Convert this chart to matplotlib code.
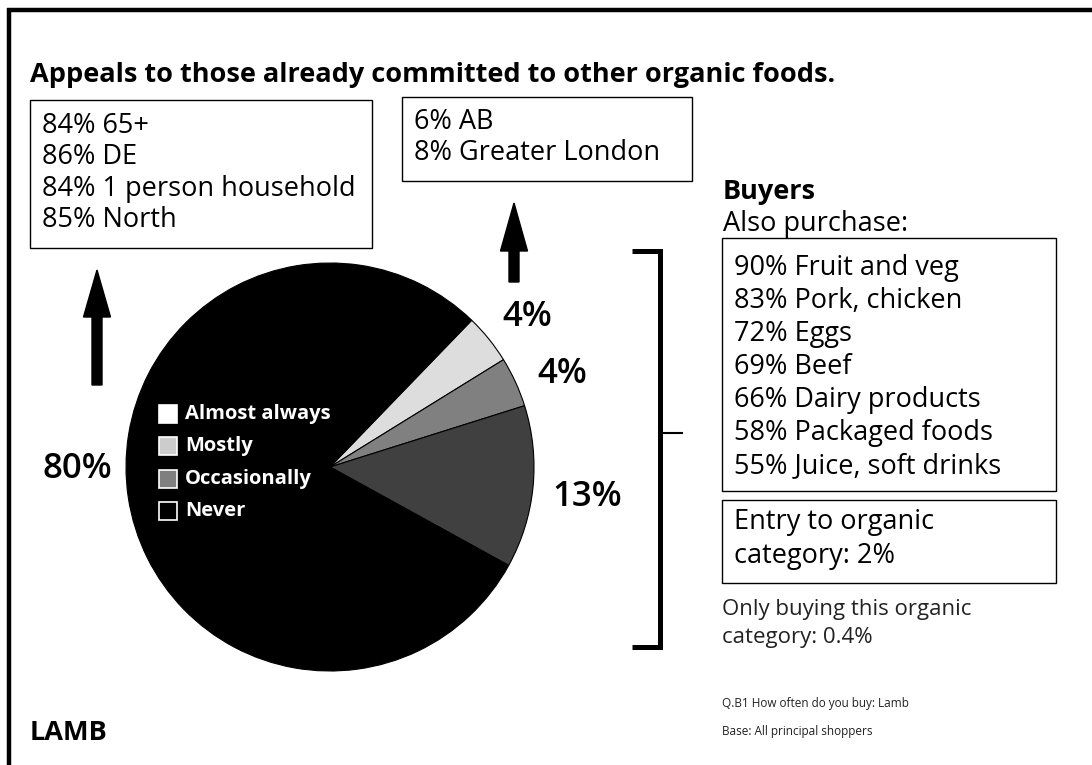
import matplotlib
matplotlib.use("Agg")
import matplotlib.pyplot as plt
from matplotlib.patches import Rectangle, FancyArrow

plt.rcParams['font.family'] = ['Open Sans', 'DejaVu Sans']

# ---- data ----
frequency = ["Almost always", "Mostly", "Occasionally", "Never"]
shares = [4, 4, 13, 80]
slice_colors = ["#dddddd", "#808080", "#404040", "#000000"]
legend_colors = ["#ffffff", "#cccccc", "#7f7f7f", "#000000"]

profile_high = ["84% 65+", "86% DE", "84% 1 person household", "85% North"]
profile_low = ["6% AB", "8% Greater London"]
also_purchase = ["90% Fruit and veg", "83% Pork, chicken", "72% Eggs", "69% Beef",
                 "66% Dairy products", "58% Packaged foods", "55% Juice, soft drinks"]

title = "Appeals to those already committed to other organic foods."
product = "LAMB"

W, H = 1092, 765
fig = plt.figure(figsize=(W / 100, H / 100), dpi=100)
ax = fig.add_axes([0, 0, 1, 1])


def Y(y):
    return H - y


BODY = 19.5

# ---- pie ----
cx, cy, r = 330, 467, 204
wedges, _ = ax.pie(shares, colors=slice_colors, startangle=46, counterclock=False,
                   center=(cx, Y(cy)), radius=r,
                   wedgeprops=dict(edgecolor="black", linewidth=0.8))

ax.set_xlim(0, W)
ax.set_ylim(0, H)
ax.set_aspect("auto")
ax.axis("off")

# outer frame (top and left rules)
ax.plot([7, W], [Y(10), Y(10)], color="black", lw=3.2, solid_capstyle="butt")
ax.plot([9, 9], [Y(8), 0], color="black", lw=3.2, solid_capstyle="butt")

# title
ax.text(30, Y(75), title, fontsize=19.5, fontweight="bold", va="center", ha="left")

# percentage labels on the pie
pct_style = dict(fontsize=25, fontweight="semibold", va="center", ha="center")
label_pos = [(527, 317), (562, 374), (587, 497), (77, 469)]
for (lx, ly), v in zip(label_pos, shares):
    ax.text(lx, Y(ly), f"{v}%", **pct_style)

# legend inside the pie
for i, (name, col) in enumerate(zip(frequency, legend_colors)):
    yy = 414 + i * 32.3
    ax.add_patch(Rectangle((159, Y(yy) - 9), 18, 18, facecolor=col,
                           edgecolor="white", lw=1.2))
    ax.text(185, Y(yy), name, color="white", fontsize=14.5, fontweight="bold",
            va="center", ha="left")

# profile boxes
ax.add_patch(Rectangle((30, Y(248)), 342, 148, fill=False, edgecolor="black", lw=1))
for i, t in enumerate(profile_high):
    ax.text(42, Y(126 + i * 31.3), t, fontsize=BODY, va="center", ha="left")

ax.add_patch(Rectangle((402, Y(181)), 290, 84, fill=False, edgecolor="black", lw=1))
for i, t in enumerate(profile_low):
    ax.text(414, Y(122 + i * 31.3), t, fontsize=BODY, va="center", ha="left")

# arrows
ax.add_patch(FancyArrow(97, Y(385), 0, 115, width=10, head_width=27, head_length=47,
                        length_includes_head=True, color="black"))
ax.add_patch(FancyArrow(514, Y(282), 0, 79, width=10, head_width=27, head_length=48,
                        length_includes_head=True, color="black"))

# bracket
ax.plot([632, 660, 660, 632], [Y(251), Y(251), Y(647), Y(647)], color="black",
        lw=3.6, solid_joinstyle="miter", solid_capstyle="butt")
ax.plot([660, 682], [Y(433), Y(433)], color="black", lw=1.5)

# buyers panel
ax.text(723, Y(192), "Buyers", fontsize=BODY, fontweight="bold", va="center", ha="left")
ax.text(723, Y(224), "Also purchase:", fontsize=BODY, va="center", ha="left")
ax.add_patch(Rectangle((722, Y(491)), 334, 253, fill=False, edgecolor="black", lw=1))
for i, t in enumerate(also_purchase):
    ax.text(734, Y(268 + i * 33), t, fontsize=BODY, va="center", ha="left")

ax.add_patch(Rectangle((722, Y(583)), 334, 83, fill=False, edgecolor="black", lw=1))
ax.text(734, Y(522), "Entry to organic", fontsize=BODY, va="center", ha="left")
ax.text(734, Y(556), "category: 2%", fontsize=BODY, va="center", ha="left")

ax.text(722, Y(610), "Only buying this organic", fontsize=16, va="center",
        ha="left", color="#222222")
ax.text(722, Y(638), "category: 0.4%", fontsize=16, va="center", ha="left",
        color="#222222")

ax.text(722, Y(703), "Q.B1 How often do you buy: Lamb", fontsize=8.5, va="center",
        ha="left", color="#222222")
ax.text(722, Y(732), "Base: All principal shoppers", fontsize=8.5, va="center",
        ha="left", color="#222222")

ax.text(30, Y(733), product, fontsize=19.5, fontweight="bold", va="center", ha="left")

fig.savefig("out.png", dpi=100, facecolor="white")
